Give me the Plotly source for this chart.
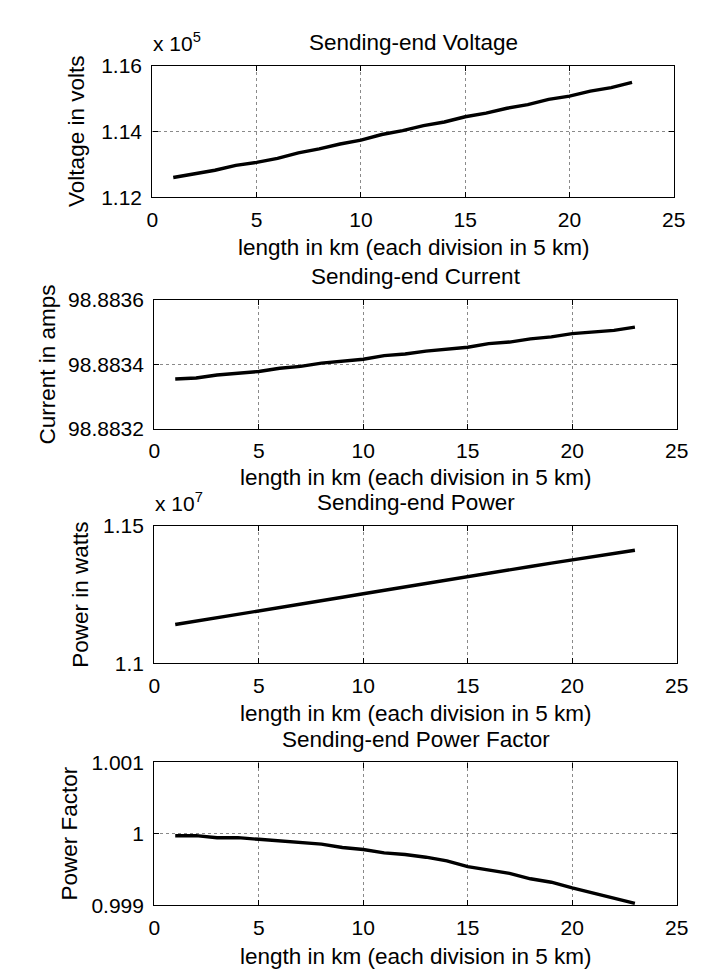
import plotly.graph_objects as go

# ---------------- data ----------------
length_km = list(range(1, 24))

voltage_e5 = [1.1260, 1.1272, 1.1282, 1.1297, 1.1306, 1.1318, 1.1335, 1.1347, 1.1362, 1.1374,
              1.1391, 1.1403, 1.1418, 1.1429, 1.1445, 1.1456, 1.1471, 1.1482, 1.1498, 1.1508,
              1.1523, 1.1534, 1.1550]
current_a = [98.883355, 98.883358, 98.883367, 98.883372, 98.883378, 98.883388, 98.883394,
             98.883404, 98.883409, 98.883416, 98.883427, 98.883432, 98.883441, 98.883446,
             98.883453, 98.883464, 98.883469, 98.883479, 98.883485, 98.883495, 98.883500,
             98.883505, 98.883515]
power_e7 = [1.1141, 1.1153, 1.1166, 1.1178, 1.1191, 1.1203, 1.1215, 1.1228, 1.1240, 1.1253,
            1.1265, 1.1278, 1.1290, 1.1303, 1.1315, 1.1327, 1.1340, 1.1352, 1.1364, 1.1376,
            1.1388, 1.1400, 1.1411]
power_factor = [0.999976, 0.999976, 0.999948, 0.999948, 0.999925, 0.999906, 0.999882, 0.999858,
                0.999811, 0.999783, 0.999736, 0.999712, 0.999675, 0.999623, 0.999542, 0.999491,
                0.999448, 0.999373, 0.999325, 0.999245, 0.999175, 0.999108, 0.999028]

x_ticks = [0, 5, 10, 15, 20, 25]
titles = ["Sending-end Voltage", "Sending-end Current", "Sending-end Power", "Sending-end Power Factor"]
ylabels = ["Voltage in volts", "Current in amps", "Power in watts", "Power Factor"]
xlabel = "length in km (each division in 5 km)"

y1_ticks = [1.12, 1.14, 1.16]
y1_text = ["1.12", "1.14", "1.16"]
y2_ticks = [98.8832, 98.8834, 98.8836]
y2_text = ["98.8832", "98.8834", "98.8836"]
y3_ticks = [1.1, 1.15]
y3_text = ["1.1", "1.15"]
y4_ticks = [0.999, 1.0, 1.001]
y4_text = ["0.999", "1", "1.001"]

# ---------------- layout geometry (pixels) ----------------
W, H = 707, 969
boxes = [  # left, right, top, bottom
    (142, 677, 47, 181.5),
    (144, 680, 286.5, 419),
    (144, 680, 518, 659),
    (144, 680, 760.5, 907),
]
ylabel_x = [64, 34, 68, 57]
xlabel_dy = [52, 50, 51, 52]

FONT = "Liberation Sans, Arial, sans-serif"
TICK_SIZE = 21
LABEL_SIZE = 22.5

series = [
    ([v * 1e5 for v in voltage_e5], [t * 1e5 for t in y1_ticks], y1_text, (1.12e5, 1.16e5)),
    (current_a, y2_ticks, y2_text, (98.8832, 98.8836)),
    ([v * 1e7 for v in power_e7], [t * 1e7 for t in y3_ticks], y3_text, (1.10e7, 1.15e7)),
    (power_factor, y4_ticks, y4_text, (0.999, 1.001)),
]

fig = go.Figure()
layout = dict(
    width=W, height=H, margin=dict(l=0, r=0, t=0, b=0),
    paper_bgcolor="white", plot_bgcolor="white", showlegend=False,
    font=dict(family=FONT, color="black", size=TICK_SIZE),
)
annotations = []

for i, (ys, tv, tt, rng) in enumerate(series):
    n = "" if i == 0 else str(i + 1)
    l, r, t, b = boxes[i]
    fig.add_trace(go.Scatter(x=length_km, y=ys, mode="lines",
                             line=dict(color="black", width=3.4),
                             xaxis="x" + n, yaxis="y" + n, hoverinfo="skip"))
    common = dict(showline=True, linecolor="black", linewidth=1.3, mirror="ticks",
                  ticks="inside", ticklen=5, tickcolor="black", tickwidth=1,
                  showgrid=True, gridcolor="#8a8a8a", griddash="dot", gridwidth=0.8,
                  zeroline=False, tickfont=dict(size=TICK_SIZE, family=FONT, color="black"))
    layout["xaxis" + n] = dict(domain=[l / W, r / W], anchor="y" + n, range=[0, 25],
                               tickvals=x_ticks, ticktext=[str(v) for v in x_ticks],
                               ticklabelstandoff=3, **common)
    layout["yaxis" + n] = dict(domain=[1 - b / H, 1 - t / H], anchor="x" + n, range=list(rng),
                               tickvals=tv, ticktext=tt, ticklabelstandoff=5, **common)
    cx = (l + r) / 2
    annotations.append(dict(text=titles[i], x=cx / W, y=1 - (t - 24) / H, xref="paper", yref="paper",
                            xanchor="center", yanchor="middle", showarrow=False,
                            font=dict(size=LABEL_SIZE, family=FONT)))
    annotations.append(dict(text=xlabel, x=cx / W, y=1 - (b + xlabel_dy[i]) / H, xref="paper",
                            yref="paper", xanchor="center", yanchor="middle", showarrow=False,
                            font=dict(size=LABEL_SIZE, family=FONT)))
    annotations.append(dict(text=ylabels[i], x=ylabel_x[i] / W, y=1 - ((t + b) / 2) / H,
                            xref="paper", yref="paper", xanchor="center", yanchor="middle",
                            textangle=-90, showarrow=False, font=dict(size=LABEL_SIZE, family=FONT)))

annotations.append(dict(text="x 10<sup>5</sup>", x=141 / W, y=1 - 38 / H, xref="paper", yref="paper",
                        xanchor="left", yanchor="bottom", showarrow=False,
                        font=dict(size=TICK_SIZE, family=FONT)))
annotations.append(dict(text="x 10<sup>7</sup>", x=143 / W, y=1 - 509 / H, xref="paper", yref="paper",
                        xanchor="left", yanchor="bottom", showarrow=False,
                        font=dict(size=TICK_SIZE, family=FONT)))

layout["annotations"] = annotations
fig.update_layout(**layout)
fig.write_html("out.html")
